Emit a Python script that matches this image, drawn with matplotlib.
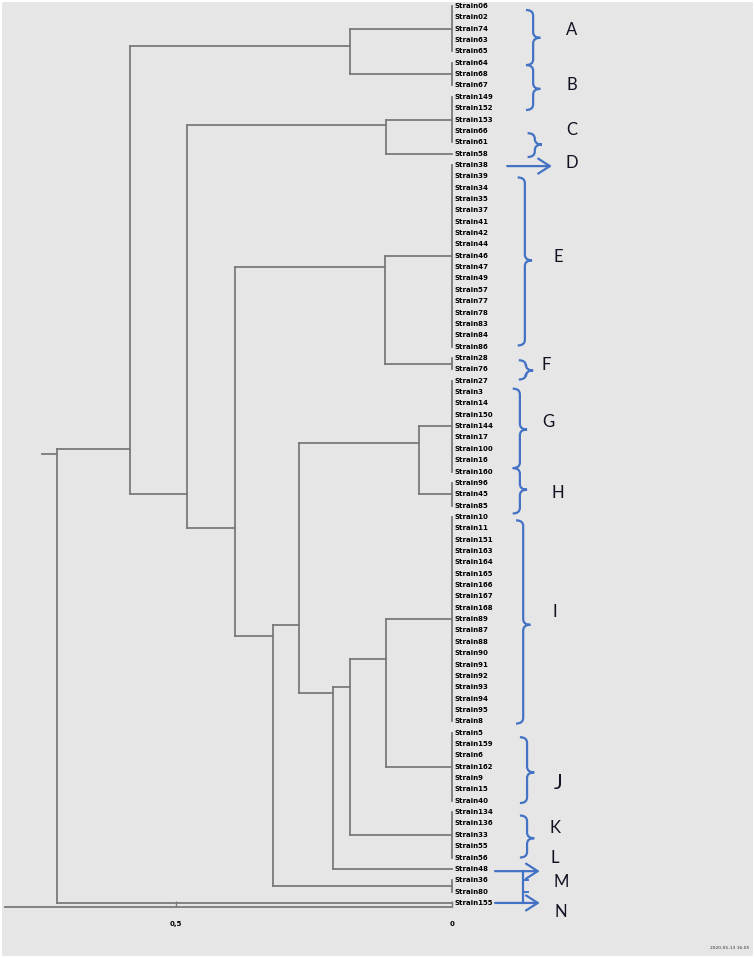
import matplotlib
matplotlib.use("Agg")
import matplotlib.pyplot as plt
from matplotlib.path import Path
from matplotlib.patches import PathPatch, Rectangle

# leaf labels, top to bottom
leaf_labels = [
    "Strain06", "Strain02", "Strain74", "Strain63", "Strain65",
    "Strain64", "Strain68", "Strain67",
    "Strain149", "Strain152", "Strain153", "Strain66", "Strain61",
    "Strain58",
    "Strain38", "Strain39", "Strain34", "Strain35", "Strain37", "Strain41",
    "Strain42", "Strain44", "Strain46", "Strain47", "Strain49", "Strain57",
    "Strain77", "Strain78", "Strain83", "Strain84", "Strain86",
    "Strain28", "Strain76",
    "Strain27", "Strain3", "Strain14", "Strain150", "Strain144", "Strain17",
    "Strain100", "Strain16", "Strain160",
    "Strain96", "Strain45", "Strain85",
    "Strain10", "Strain11", "Strain151", "Strain163", "Strain164",
    "Strain165", "Strain166", "Strain167", "Strain168", "Strain89",
    "Strain87", "Strain88", "Strain90", "Strain91", "Strain92", "Strain93",
    "Strain94", "Strain95", "Strain8",
    "Strain5", "Strain159", "Strain6", "Strain162", "Strain9", "Strain15",
    "Strain40",
    "Strain134", "Strain136", "Strain33", "Strain55", "Strain56",
    "Strain48",
    "Strain36", "Strain80",
    "Strain155",
]

# groups of identical strains (joined at distance 0)
cluster_names = list("ABCDEFGHIJKLMN")
cluster_sizes = [5, 3, 5, 1, 17, 2, 9, 3, 19, 7, 5, 1, 2, 1]

# merges: left node, right node, distance
merge_left = ["A", "C", "E", "G", "I", "IJ", "IJK", "GH", "GHIJKL", "EF",
              "CD", "AB", "ABCDEFGHIJKLM"]
merge_right = ["B", "D", "F", "H", "J", "K", "L", "IJKL", "M", "GHIJKLM",
               "EFGHIJKLM", "CDEFGHIJKLM", "N"]
merge_dist = [0.184, 0.120, 0.121, 0.060, 0.120, 0.184, 0.216, 0.277,
              0.325, 0.393, 0.480, 0.583, 0.716]

axis_ticks = [0.5, 0.0]
axis_ticklabels = ["0,5", "0"]

LINE = "#7a7a7a"
BLUE = "#4472c4"

fig = plt.figure(figsize=(7.55, 9.58), dpi=100, facecolor="#e6e6e6")
fig.patches.append(Rectangle((0, 0), 1, 1, transform=fig.transFigure,
                             fill=False, edgecolor="white", lw=3))
ax = fig.add_axes([0, 0, 1, 1])
ax.set_facecolor("none")
ax.set_xlim(0.819, -0.549)
ax.set_ylim(83.85, -0.53)

# tree layout: node y = mean position of its leaves
nodes = {}
start = 0
for name, size in zip(cluster_names, cluster_sizes):
    idx = list(range(start, start + size))
    nodes[name] = {"y": sum(idx) / size, "n": size, "d": 0.0}
    if size > 1:
        ax.plot([0, 0], [idx[0], idx[-1]], color=LINE, lw=1.3)
    start += size

for left, right, d in zip(merge_left, merge_right, merge_dist):
    a, b = nodes[left], nodes[right]
    n = a["n"] + b["n"]
    y = (a["y"] * a["n"] + b["y"] * b["n"]) / n
    ax.plot([a["d"], d], [a["y"], a["y"]], color=LINE, lw=1.3)
    ax.plot([b["d"], d], [b["y"], b["y"]], color=LINE, lw=1.3)
    ax.plot([d, d], [a["y"], b["y"]], color=LINE, lw=1.3)
    nodes[left + right] = {"y": y, "n": n, "d": d}

root = nodes[merge_left[-1] + merge_right[-1]]
ax.plot([root["d"], root["d"] + 0.027], [root["y"], root["y"]], color=LINE, lw=1.3)

for i, lab in enumerate(leaf_labels):
    ax.text(-0.005, i, lab, fontsize=5, fontweight="bold", va="center",
            ha="left", color="black")

# distance axis
for s in ["top", "left", "right"]:
    ax.spines[s].set_visible(False)
ax.spines["bottom"].set_position(("data", 79.36))
ax.spines["bottom"].set_bounds(0, 0.81)
ax.spines["bottom"].set_color(LINE)
ax.spines["bottom"].set_linewidth(1.3)
ax.set_xticks(axis_ticks)
ax.set_xticklabels(axis_ticklabels, fontsize=5, fontweight="bold")
ax.tick_params(axis="x", direction="in", length=4, width=1, color=LINE, pad=10)
ax.set_yticks([])


def brace(x, top, bot, nubs):
    w, h = 0.013, 0.5
    verts = [(x + w, top), (x, top), (x, top + h)]
    codes = [Path.MOVETO, Path.CURVE3, Path.CURVE3]
    for ny, side in nubs:
        tip = x - w if side == "r" else x + w
        verts += [(x, ny - h), (x, ny), (tip, ny), (x, ny), (x, ny + h)]
        codes += [Path.LINETO, Path.CURVE3, Path.CURVE3, Path.CURVE3, Path.CURVE3]
    verts += [(x, bot - h), (x, bot), (x + w, bot)]
    codes += [Path.LINETO, Path.CURVE3, Path.CURVE3]
    ax.add_patch(PathPatch(Path(verts, codes), fill=False, edgecolor=BLUE, lw=1.6))


def arrow(x0, x1, y):
    ax.annotate("", xy=(x1, y), xytext=(x0, y),
                arrowprops=dict(arrowstyle="->,head_length=0.7,head_width=0.45",
                                color=BLUE, lw=1.6, shrinkA=0, shrinkB=0,
                                mutation_scale=12))


brace(-0.147, 0.35, 9.16, [(2.8, "r"), (5.2, "l"), (7.3, "r")])
brace(-0.150, 11.2, 13.3, [(12.2, "r")])
arrow(-0.100, -0.181, 14.1)
brace(-0.132, 15.1, 29.9, [(22.4, "r")])
brace(-0.134, 31.2, 32.9, [(32.1, "r")])
brace(-0.123, 33.7, 44.7, [(37.3, "r"), (40.7, "l"), (42.6, "r")])
brace(-0.129, 45.3, 63.2, [(54.5, "r")])
brace(-0.136, 64.4, 70.2, [(67.5, "r")])
brace(-0.136, 71.3, 75.0, [(73.3, "r")])
arrow(-0.078, -0.159, 76.2)
arrow(-0.078, -0.159, 79.0)
ax.plot([-0.129, -0.129], [76.2, 79.0], color=BLUE, lw=1.6)
ax.plot([-0.129, -0.137], [77.0, 77.0], color=BLUE, lw=1.4)
ax.plot([-0.129, -0.137], [78.0, 78.0], color=BLUE, lw=1.4)

letter_x = [-0.217, -0.217, -0.217, -0.217, -0.192, -0.170, -0.174,
            -0.192, -0.187, -0.192, -0.187, -0.187, -0.197, -0.197]
letter_y = [2.1, 7.0, 10.9, 13.8, 22.1, 31.6, 36.6, 42.9, 53.4, 68.4,
            72.4, 75.0, 77.2, 79.8]
for name, lx, ly in zip(cluster_names, letter_x, letter_y):
    ax.text(lx, ly, name, fontsize=15 if name == "J" else 12, family="Lato",
            ha="center", va="center", color="#111122")

fig.text(0.993, 0.008, "2020-05-13 16:05", fontsize=3.2, ha="right",
         va="bottom", color="#333333")

fig.savefig("out.png", dpi=100, facecolor=fig.get_facecolor())
